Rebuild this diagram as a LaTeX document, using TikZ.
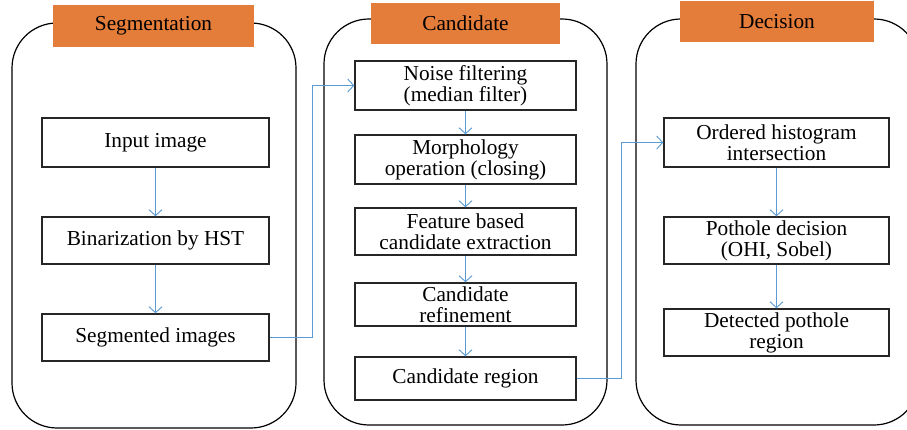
\documentclass[tikz,border=0pt]{standalone}
\usepackage{fontspec}
\setmainfont{Liberation Serif}
\usetikzlibrary{arrows.meta}
\definecolor{hdorange}{HTML}{E47C3A}
\definecolor{flowblue}{HTML}{5B9BD5}
\definecolor{boxgray}{HTML}{262626}

\begin{document}
\begin{tikzpicture}[x=1pt,y=-1pt,font=\fontsize{21.3}{21}\selectfont,
  panel/.style={draw=black,line width=1.2pt,rounded corners=45pt},
  header/.style={fill=hdorange,inner sep=0pt},
  stepbox/.style={draw=boxgray,line width=1.4pt,inner sep=0pt,align=center},
  flow/.style={draw=flowblue,line width=0.9pt,
               -{Straight Barb[length=6pt,width=13pt]}}]

  \clip (0,0) rectangle (907,430);

  % --- the three stage panels ---
  \draw[panel] (12,23) rectangle (296,428);
  \draw[panel] (324,19) rectangle (607,425);
  \draw[panel] (636,19) rectangle (919,425);

  % --- panel titles ---
  \node[header,minimum width=201pt,minimum height=42pt] (hseg) at (153.5,26)
        {Segmentation};
  \node[header,minimum width=189pt,minimum height=41pt] (hcand) at (465.5,23.5)
        {Candidate};
  \node[header,minimum width=194pt,minimum height=41pt] (hdec) at (777,21.5)
        {Decision};

  % segmentation steps
  \node[stepbox,minimum width=227pt,minimum height=49pt] (input) at (155.5,142.5)
        {Input image};
  \node[stepbox,minimum width=227pt,minimum height=47pt] (binar) at (155.5,240.5)
        {Binarization by HST};
  \node[stepbox,minimum width=227pt,minimum height=47pt] (segimg) at (155.5,337.5)
        {Segmented images};

  % candidate steps
  \node[stepbox,minimum width=221pt,minimum height=49pt] (noise) at (465.5,85.5)
        {Noise filtering\\(median filter)};
  \node[stepbox,minimum width=221pt,minimum height=49pt] (morph) at (465.5,159.5)
        {Morphology\\operation (closing)};
  \node[stepbox,minimum width=221pt,minimum height=47pt] (feat) at (465.5,231.5)
        {Feature based\\candidate extraction};
  \node[stepbox,minimum width=221pt,minimum height=43pt] (refine) at (465.5,304.5)
        {Candidate\\refinement};
  \node[stepbox,minimum width=221pt,minimum height=43pt] (region) at (465.5,378.5)
        {Candidate region};

  % decision steps
  \node[stepbox,minimum width=225pt,minimum height=49pt] (ohi) at (776.5,142.5)
        {Ordered histogram\\intersection};
  \node[stepbox,minimum width=225pt,minimum height=47pt] (pdec) at (776.5,240.5)
        {Pothole decision\\(OHI, Sobel)};
  \node[stepbox,minimum width=225pt,minimum height=47pt] (detect) at (776.5,332.5)
        {Detected pothole\\region};

  % --- flow inside each panel ---
  \foreach \a/\b in {input/binar,binar/segimg,noise/morph,morph/feat,
                     feat/refine,refine/region,ohi/pdec,pdec/detect}
    \draw[flow] (\a.south) -- (\b.north);

  % --- hand-over between panels ---
  \draw[flow] (segimg.east) -- ++(43,0) |- (noise.west);
  \draw[flow] (region.east) -- ++(45,0) |- (ohi.west);

\end{tikzpicture}
\end{document}
